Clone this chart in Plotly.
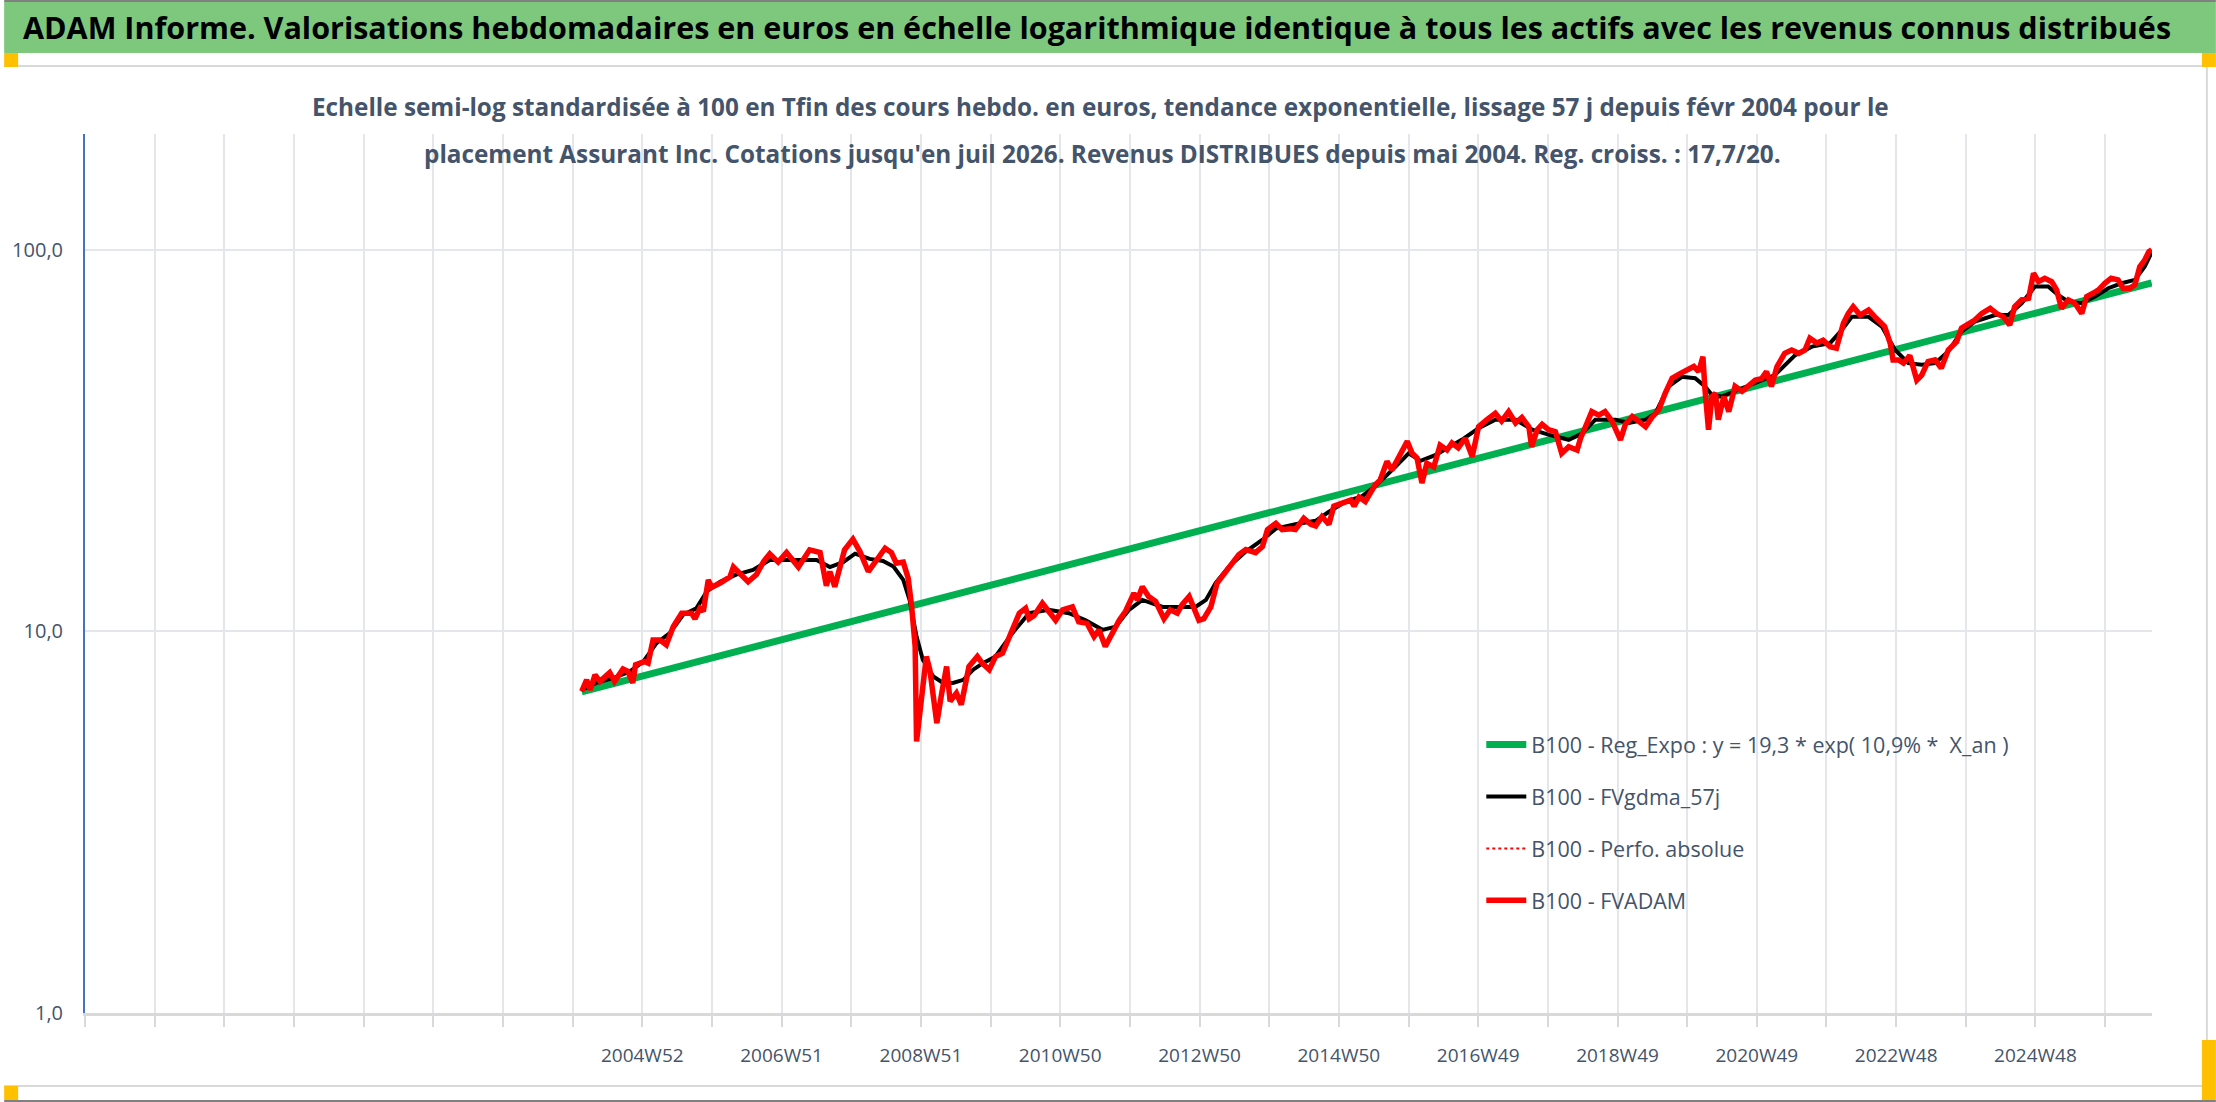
import plotly.graph_objects as go

W, H = 2216, 1102
FONT = "Open Sans, sans-serif"

title_text = ("ADAM Informe. Valorisations hebdomadaires en euros en échelle logarithmique "
              "identique à tous les actifs avec les revenus connus distribués")
subtitle_l1 = ("Echelle semi-log standardisée à 100 en Tfin des cours hebdo. en euros, tendance "
               "exponentielle, lissage 57 j depuis févr 2004 pour le")
subtitle_l2 = ("placement Assurant Inc. Cotations jusqu'en juil 2026. Revenus DISTRIBUES depuis "
               "mai 2004. Reg. croiss. : 17,7/20.")

name_reg = "B100 - Reg_Expo : y = 19,3 * exp( 10,9% *  X_an )"
name_gdma = "B100 - FVgdma_57j"
name_perfo = "B100 - Perfo. absolue"
name_adam = "B100 - FVADAM"

x_tick_labels = ["2004W52", "2006W51", "2008W51", "2010W50", "2012W50", "2014W50",
                 "2016W49", "2018W49", "2020W49", "2022W48", "2024W48"]
y_tick_vals = [1, 10, 100]
y_tick_text = ["1,0", "10,0", "100,0"]

# regression line (two end points, decimal years)
reg_t = [2004.10, 2026.56]
reg_v = [6.95, 82.0]

# smoothed series FVgdma_57j
fvgdma_t = [2004.10, 2004.31, 2004.55, 2004.79, 2004.98, 2005.17, 2005.36, 2005.55, 2005.74, 2005.89,
            2006.08, 2006.31, 2006.55, 2006.79, 2007.17, 2007.46, 2007.65, 2007.84, 2008.01, 2008.22,
            2008.41, 2008.56, 2008.70, 2008.79, 2008.89, 2008.98, 2009.13, 2009.27, 2009.41, 2009.56,
            2009.70, 2009.84, 2010.02, 2010.26, 2010.50, 2010.78, 2011.07, 2011.31, 2011.55, 2011.74,
            2011.93, 2012.12, 2012.41, 2012.69, 2012.88, 2013.03, 2013.17, 2013.36, 2013.60, 2013.84,
            2014.03, 2014.31, 2014.60, 2014.79, 2015.03, 2015.26, 2015.45, 2015.74, 2015.93, 2016.10,
            2016.31, 2016.69, 2016.93, 2017.17, 2017.46, 2017.70, 2017.93, 2018.22, 2018.41, 2018.60,
            2018.89, 2019.08, 2019.32, 2019.46, 2019.65, 2019.84, 2020.03, 2020.17, 2020.27, 2020.41,
            2020.60, 2020.89, 2021.17, 2021.46, 2021.70, 2021.96, 2022.13, 2022.27, 2022.51, 2022.70,
            2022.89, 2023.08, 2023.27, 2023.46, 2023.65, 2023.84, 2024.03, 2024.32, 2024.51, 2024.70,
            2024.89, 2025.08, 2025.22, 2025.37, 2025.56, 2025.75, 2025.94, 2026.13, 2026.32, 2026.46,
            2026.56]
fvgdma_v = [7.03, 7.33, 7.55, 7.86, 8.34, 9.32, 9.90, 11.06, 11.5, 12.73,
            13.5, 14.1, 14.5, 15.4, 15.4, 15.4, 14.75, 15.2, 16.0, 15.5,
            15.3, 14.8, 13.65, 12.1, 9.7, 8.43, 7.62, 7.33, 7.33, 7.47,
            7.94, 8.26, 8.6, 9.9, 11.17, 11.4, 11.17, 10.7, 10.1, 10.3,
            11.4, 12.1, 11.6, 11.6, 11.6, 12.1, 13.4, 14.8, 16.2, 17.4,
            18.6, 19.1, 19.5, 20.6, 21.9, 22.6, 24.0, 27.0, 29.3, 28.0,
            29.0, 31.8, 34.1, 35.9, 35.9, 33.8, 32.8, 31.8, 33.0, 35.9,
            35.9, 35.2, 35.9, 37.3, 43.9, 46.5, 46.1, 43.9, 41.7, 41.3,
            42.6, 44.8, 47.0, 53.0, 55.8, 57.0, 61.8, 66.8, 66.8, 63.0,
            54.7, 50.5, 50.0, 50.5, 54.2, 61.1, 64.9, 67.5, 67.5, 72.5,
            80.2, 80.2, 76.3, 73.2, 72.5, 75.5, 79.4, 81.8, 83.5, 90.4,
            98.5]

# weekly valuation FVADAM (read at ~3-6 week resolution)
fvadam_t = [2004.10, 2004.17, 2004.22, 2004.29, 2004.36, 2004.50, 2004.57, 2004.69, 2004.76, 2004.83,
            2004.87, 2005.00, 2005.05, 2005.12, 2005.22, 2005.31, 2005.41, 2005.53, 2005.67, 2005.72,
            2005.79, 2005.84, 2005.91, 2005.96, 2006.08, 2006.22, 2006.27, 2006.36, 2006.48, 2006.60,
            2006.70, 2006.79, 2006.91, 2007.03, 2007.13, 2007.20, 2007.36, 2007.51, 2007.60, 2007.65,
            2007.72, 2007.79, 2007.86, 2007.98, 2008.08, 2008.20, 2008.25, 2008.34, 2008.44, 2008.53,
            2008.60, 2008.70, 2008.77, 2008.82, 2008.87, 2008.89, 2008.96, 2009.03, 2009.08, 2009.18,
            2009.25, 2009.32, 2009.37, 2009.46, 2009.53, 2009.64, 2009.76, 2009.83, 2009.93, 2010.02,
            2010.12, 2010.19, 2010.26, 2010.36, 2010.45, 2010.50, 2010.57, 2010.69, 2010.76, 2010.88,
            2010.98, 2011.12, 2011.21, 2011.33, 2011.43, 2011.50, 2011.59, 2011.69, 2011.79, 2011.88,
            2012.00, 2012.05, 2012.12, 2012.21, 2012.31, 2012.43, 2012.52, 2012.62, 2012.69, 2012.79,
            2012.86, 2012.93, 2013.00, 2013.10, 2013.19, 2013.31, 2013.41, 2013.50, 2013.60, 2013.74,
            2013.84, 2013.91, 2014.03, 2014.12, 2014.24, 2014.31, 2014.43, 2014.53, 2014.60, 2014.69,
            2014.79, 2014.86, 2014.98, 2015.10, 2015.15, 2015.22, 2015.31, 2015.45, 2015.52, 2015.62,
            2015.69, 2015.79, 2015.91, 2015.98, 2016.05, 2016.12, 2016.19, 2016.29, 2016.38, 2016.48,
            2016.55, 2016.64, 2016.74, 2016.84, 2016.93, 2017.05, 2017.17, 2017.26, 2017.36, 2017.46,
            2017.55, 2017.65, 2017.69, 2017.77, 2017.84, 2017.93, 2018.03, 2018.12, 2018.22, 2018.34,
            2018.39, 2018.46, 2018.55, 2018.65, 2018.74, 2018.84, 2018.96, 2019.03, 2019.13, 2019.22,
            2019.32, 2019.41, 2019.51, 2019.60, 2019.70, 2019.82, 2019.91, 2020.01, 2020.08, 2020.14,
            2020.17, 2020.22, 2020.27, 2020.32, 2020.36, 2020.44, 2020.51, 2020.60, 2020.70, 2020.79,
            2020.89, 2020.98, 2021.05, 2021.12, 2021.20, 2021.31, 2021.41, 2021.51, 2021.60, 2021.67,
            2021.77, 2021.86, 2021.96, 2022.05, 2022.15, 2022.22, 2022.29, 2022.39, 2022.51, 2022.62,
            2022.74, 2022.82, 2022.86, 2022.94, 2023.01, 2023.10, 2023.20, 2023.27, 2023.36, 2023.46,
            2023.55, 2023.65, 2023.77, 2023.84, 2023.94, 2024.03, 2024.13, 2024.25, 2024.34, 2024.44,
            2024.53, 2024.60, 2024.70, 2024.80, 2024.87, 2024.94, 2025.03, 2025.13, 2025.20, 2025.27,
            2025.37, 2025.46, 2025.56, 2025.63, 2025.72, 2025.80, 2025.89, 2025.98, 2026.08, 2026.15,
            2026.25, 2026.32, 2026.39, 2026.46, 2026.52, 2026.56]
fvadam_v = [6.97, 7.47, 7.03, 7.70, 7.40, 7.80, 7.40, 7.97, 7.86, 7.33,
            8.18, 8.34, 8.26, 9.50, 9.50, 9.23, 10.3, 11.17, 11.17, 10.8,
            11.5, 11.3, 13.65, 13.06, 13.4, 13.9, 14.75, 14.16, 13.5, 14.1,
            15.24, 15.98, 15.2, 16.1, 15.2, 14.75, 16.37, 16.1, 13.18, 14.36,
            13.1, 14.75, 16.37, 17.46, 16.2, 14.36, 14.8, 15.56, 16.53, 16.1,
            15.1, 15.2, 13.8, 11.63, 9.14, 5.15, 6.89, 8.6, 7.94, 5.75,
            6.89, 8.1, 6.56, 6.89, 6.43, 8.1, 8.6, 8.26, 7.94, 8.6,
            8.77, 9.5, 10.1, 11.17, 11.5, 10.8, 11.0, 11.86, 11.45, 10.7,
            11.4, 11.6, 10.6, 10.5, 9.7, 10.1, 9.13, 9.9, 10.7, 11.3,
            12.6, 12.1, 13.1, 12.35, 12.0, 10.8, 11.4, 11.17, 11.76, 12.35,
            11.4, 10.7, 10.8, 11.6, 13.4, 14.35, 15.25, 15.9, 16.4, 16.1,
            16.7, 18.5, 19.2, 18.5, 18.6, 18.5, 19.8, 19.1, 18.9, 20.0,
            19.1, 21.3, 21.7, 22.1, 21.3, 22.5, 21.9, 24.2, 24.9, 27.9,
            26.5, 28.7, 31.5, 29.3, 28.5, 24.5, 27.6, 27.0, 30.8, 29.9,
            31.2, 30.3, 32.1, 28.7, 34.4, 35.9, 37.3, 35.6, 37.7, 35.2,
            36.4, 34.4, 30.5, 33.8, 34.9, 33.8, 33.4, 29.3, 30.5, 29.9,
            32.1, 34.4, 37.7, 36.9, 37.7, 35.6, 31.8, 34.9, 36.6, 35.6,
            34.4, 36.4, 38.1, 42.1, 46.1, 47.5, 48.4, 49.5, 48.0, 52.5,
            43.0, 33.8, 41.3, 42.1, 35.9, 41.3, 37.7, 43.9, 42.6, 43.9,
            45.6, 46.0, 48.0, 43.9, 49.5, 53.6, 54.7, 53.6, 54.7, 58.7,
            57.0, 58.0, 55.8, 55.3, 64.3, 68.2, 71.0, 67.5, 69.6, 66.2,
            63.0, 56.9, 51.5, 51.5, 50.5, 52.9, 45.6, 47.0, 51.0, 51.5,
            49.0, 54.7, 57.5, 62.4, 64.3, 65.5, 68.2, 70.3, 68.2, 66.8,
            63.6, 71.0, 74.0, 74.7, 86.9, 82.6, 84.3, 82.6, 78.6, 70.3,
            74.0, 72.6, 68.2, 75.5, 77.0, 78.6, 81.8, 84.3, 83.5, 79.4,
            79.4, 81.0, 90.4, 94.1, 99.0, 100.0]

# ---------------- axis geometry ----------------
first_label_t = 2004.966          # 2004W52
week52 = 364 / 365.25             # one gridline every 52 weeks
tick_idx = list(range(-8, 22))
tick_vals = [first_label_t + k * week52 for k in tick_idx]
tick_text = [x_tick_labels[k // 2] if (k >= 0 and k % 2 == 0 and k // 2 < len(x_tick_labels)) else ""
             for k in tick_idx]
x_range = [tick_vals[0], 2026.565]

# plot area in pixels
L, R, T, B = 81, 2152, 134, 1013
PW, PH = R - L, B - T


def px(xp):
    return (xp - L) / PW


def py(yp):
    return (B - yp) / PH


fig = go.Figure()
fig.add_trace(go.Scatter(x=reg_t, y=reg_v, mode="lines", name=name_reg, legendgroup="g1",
                         line=dict(color="#00b050", width=7)))
fig.add_trace(go.Scatter(x=fvgdma_t, y=fvgdma_v, mode="lines", name=name_gdma, legendgroup="g2",
                         line=dict(color="#000000", width=4)))
fig.add_trace(go.Scatter(x=fvadam_t, y=fvadam_v, mode="lines", name=name_perfo, legendgroup="g3",
                         line=dict(color="#ff0000", width=2, dash="dot")))
fig.add_trace(go.Scatter(x=fvadam_t, y=fvadam_v, mode="lines", name=name_adam, legendgroup="g4",
                         line=dict(color="#ff0000", width=5.5)))

shapes = []


def rect(x0, y0, x1, y1, color):
    shapes.append(dict(type="rect", xref="paper", yref="paper", x0=px(x0), x1=px(x1),
                       y0=py(y1), y1=py(y0), fillcolor=color, line=dict(width=0), layer="above"))


def hline(x0, x1, y, color, w):
    shapes.append(dict(type="line", xref="paper", yref="paper", x0=px(x0), x1=px(x1),
                       y0=py(y), y1=py(y), line=dict(color=color, width=w), layer="below"))


def vline(x, y0, y1, color, w):
    shapes.append(dict(type="line", xref="paper", yref="paper", x0=px(x), x1=px(x),
                       y0=py(y0), y1=py(y1), line=dict(color=color, width=w), layer="below"))


rect(0, 0, W, 2, "#808080")
rect(0, 2, W, 53, "#7ec87e")
hline(0, 2207, 66, "#d9d9d9", 2)
hline(0, 2207, 1086, "#d9d9d9", 2)
vline(2207, 66, 1086, "#d9d9d9", 2)
rect(0, 1100, W, H, "#808080")
rect(0, 53, 14, 67, "#ffc000")
rect(2202, 53, W, 67, "#ffc000")
rect(2202, 1040, W, 1100, "#ffc000")
rect(0, 1086, 14, 1100, "#ffc000")

annotations = [
    dict(text="<b>" + title_text + "</b>", xref="paper", yref="paper", x=px(17), y=py(27),
         xanchor="left", yanchor="middle", showarrow=False,
         font=dict(family=FONT, size=30.5, color="#000000")),
    dict(text="<b>" + subtitle_l1 + "</b>", xref="paper", yref="paper", x=px(1098), y=py(107),
         xanchor="center", yanchor="middle", showarrow=False,
         font=dict(family=FONT, size=24.3, color="#44546a")),
    dict(text="<b>" + subtitle_l2 + "</b>", xref="paper", yref="paper", x=px(1100), y=py(153),
         xanchor="center", yanchor="middle", showarrow=False,
         font=dict(family=FONT, size=24.3, color="#44546a")),
]

fig.update_layout(
    width=W, height=H, autosize=False,
    margin=dict(l=L, r=W - R, t=T, b=H - B, pad=0),
    paper_bgcolor="white", plot_bgcolor="white",
    font=dict(family=FONT, color="#44546a"),
    showlegend=True,
    legend=dict(x=px(1480), y=py(724), xanchor="left", yanchor="top",
                bgcolor="rgba(0,0,0,0)", font=dict(family=FONT, size=21.5, color="#44546a"),
                traceorder="grouped", tracegroupgap=21, itemwidth=40),
    shapes=shapes,
    annotations=annotations,
    xaxis=dict(range=x_range, tickmode="array", tickvals=tick_vals, ticktext=tick_text,
               showgrid=True, gridcolor="#e3e6ea", gridwidth=2, zeroline=False,
               showline=True, linecolor="#d9d9d9", linewidth=3,
               ticks="outside", ticklen=11, tickcolor="#d9d9d9", tickwidth=2,
               tickfont=dict(family=FONT, size=19, color="#44546a"), ticklabelstandoff=12),
    yaxis=dict(type="log", range=[0, 2.304], tickmode="array", tickvals=y_tick_vals,
               ticktext=y_tick_text, showgrid=True, gridcolor="#e3e6ea", gridwidth=2,
               zeroline=False, showline=True, linecolor="#4472c4", linewidth=2, ticks="",
               tickfont=dict(family=FONT, size=20, color="#44546a"), ticklabelstandoff=16),
)

fig.write_html("out.html", config={"displayModeBar": False},
               post_script="document.body.style.margin='0px';document.body.style.overflow='hidden';")
